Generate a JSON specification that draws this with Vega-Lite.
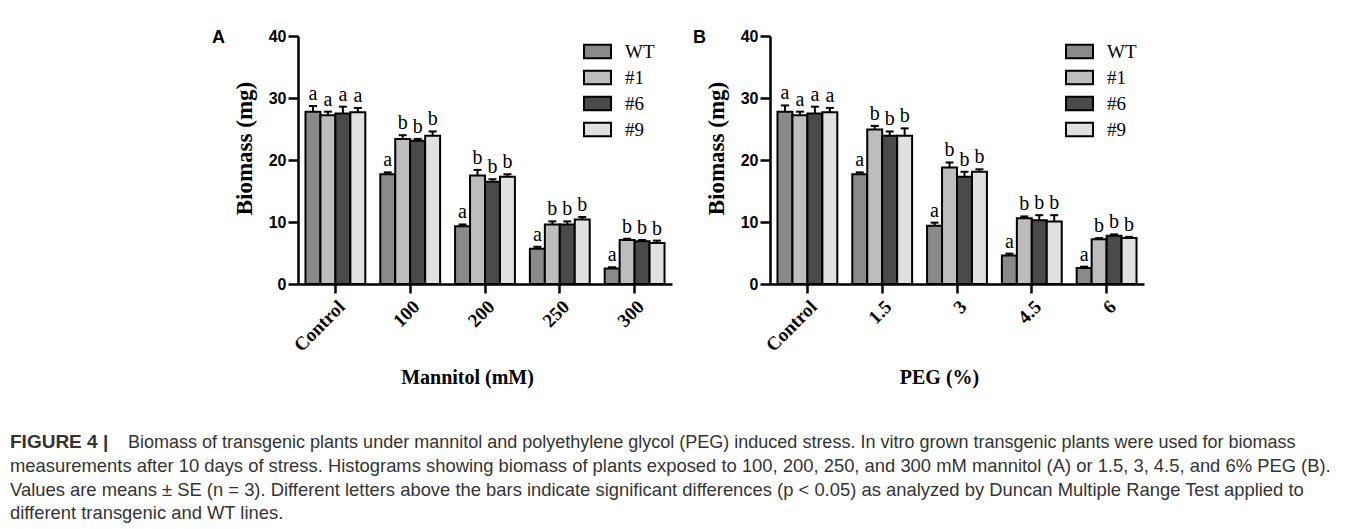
{
  "$schema": "https://vega.github.io/schema/vega-lite/v6.json",
  "background": "white",
  "padding": {"left": 10, "top": 28, "right": 5, "bottom": 5},
  "datasets": {
    "mannitol": [
      {"group": "Control", "line": "WT", "value": 27.8, "upper": 28.7, "sig": "a"},
      {"group": "Control", "line": "#1", "value": 27.2, "upper": 27.8, "sig": "a"},
      {"group": "Control", "line": "#6", "value": 27.5, "upper": 28.6, "sig": "a"},
      {"group": "Control", "line": "#9", "value": 27.7, "upper": 28.4, "sig": "a"},
      {"group": "100", "line": "WT", "value": 17.7, "upper": 18.0, "sig": "a"},
      {"group": "100", "line": "#1", "value": 23.4, "upper": 24.0, "sig": "b"},
      {"group": "100", "line": "#6", "value": 23.1, "upper": 23.4, "sig": "b"},
      {"group": "100", "line": "#9", "value": 23.9, "upper": 24.6, "sig": "b"},
      {"group": "200", "line": "WT", "value": 9.3, "upper": 9.6, "sig": "a"},
      {"group": "200", "line": "#1", "value": 17.5, "upper": 18.4, "sig": "b"},
      {"group": "200", "line": "#6", "value": 16.5, "upper": 16.9, "sig": "b"},
      {"group": "200", "line": "#9", "value": 17.3, "upper": 17.7, "sig": "b"},
      {"group": "250", "line": "WT", "value": 5.7, "upper": 6.0, "sig": "a"},
      {"group": "250", "line": "#1", "value": 9.6, "upper": 10.1, "sig": "b"},
      {"group": "250", "line": "#6", "value": 9.6, "upper": 10.1, "sig": "b"},
      {"group": "250", "line": "#9", "value": 10.4, "upper": 10.8, "sig": "b"},
      {"group": "300", "line": "WT", "value": 2.5, "upper": 2.7, "sig": "a"},
      {"group": "300", "line": "#1", "value": 7.1, "upper": 7.3, "sig": "b"},
      {"group": "300", "line": "#6", "value": 6.9, "upper": 7.1, "sig": "b"},
      {"group": "300", "line": "#9", "value": 6.6, "upper": 7.0, "sig": "b"}
    ],
    "peg": [
      {"group": "Control", "line": "WT", "value": 27.8, "upper": 28.8, "sig": "a"},
      {"group": "Control", "line": "#1", "value": 27.2, "upper": 27.8, "sig": "a"},
      {"group": "Control", "line": "#6", "value": 27.5, "upper": 28.6, "sig": "a"},
      {"group": "Control", "line": "#9", "value": 27.7, "upper": 28.4, "sig": "a"},
      {"group": "1.5", "line": "WT", "value": 17.7, "upper": 18.0, "sig": "a"},
      {"group": "1.5", "line": "#1", "value": 24.9, "upper": 25.5, "sig": "b"},
      {"group": "1.5", "line": "#6", "value": 23.9, "upper": 24.6, "sig": "b"},
      {"group": "1.5", "line": "#9", "value": 23.9, "upper": 25.1, "sig": "b"},
      {"group": "3", "line": "WT", "value": 9.4, "upper": 9.9, "sig": "a"},
      {"group": "3", "line": "#1", "value": 18.8, "upper": 19.6, "sig": "b"},
      {"group": "3", "line": "#6", "value": 17.3, "upper": 18.1, "sig": "b"},
      {"group": "3", "line": "#9", "value": 18.1, "upper": 18.5, "sig": "b"},
      {"group": "4.5", "line": "WT", "value": 4.6, "upper": 4.9, "sig": "a"},
      {"group": "4.5", "line": "#1", "value": 10.6, "upper": 10.9, "sig": "b"},
      {"group": "4.5", "line": "#6", "value": 10.3, "upper": 11.1, "sig": "b"},
      {"group": "4.5", "line": "#9", "value": 10.1, "upper": 11.1, "sig": "b"},
      {"group": "6", "line": "WT", "value": 2.6, "upper": 2.8, "sig": "a"},
      {"group": "6", "line": "#1", "value": 7.2, "upper": 7.4, "sig": "b"},
      {"group": "6", "line": "#6", "value": 7.8, "upper": 8.0, "sig": "b"},
      {"group": "6", "line": "#9", "value": 7.4, "upper": 7.6, "sig": "b"}
    ]
  },
  "title": {
    "text": [
      "measurements after 10 days of stress. Histograms showing biomass of plants exposed to 100, 200, 250, and 300 mM mannitol (A) or 1.5, 3, 4.5, and 6% PEG (B).",
      "Values are means ± SE (n = 3). Different letters above the bars indicate significant differences (p < 0.05) as analyzed by Duncan Multiple Range Test applied to",
      "different transgenic and WT lines."
    ],
    "orient": "bottom", "anchor": "start", "frame": "group", "offset": 5,
    "font": "Liberation Sans", "fontSize": 18.4, "fontWeight": "normal", "color": "#333333", "lineHeight": 23.7
  },
  "vconcat": [
    {
      "title": {
        "text": "Biomass of transgenic plants under mannitol and polyethylene glycol (PEG) induced stress. In vitro grown transgenic plants were used for biomass",
        "orient": "bottom", "anchor": "start", "frame": "group", "offset": -18, "dx": 118,
        "font": "Liberation Sans", "fontSize": 18, "fontWeight": "normal", "color": "#333333", "lineHeight": 24
      },
      "vconcat": [
        {
          "title": {
            "text": "FIGURE 4 |",
            "orient": "bottom", "anchor": "start", "frame": "group", "offset": 46,
            "font": "Liberation Sans", "fontSize": 19, "fontWeight": "bold", "color": "#333333", "lineHeight": 24
          },
          "spacing": 21,
          "resolve": {"scale": {"fill": "independent"}, "legend": {"fill": "independent"}},
          "hconcat": [
            {
              "width": 181,
              "height": 248,
              "data": {"values": [{}]},
              "mark": {"type": "point", "opacity": 0}
            },
            {
              "width": 374,
              "height": 248,
              "title": {"text": "A", "anchor": "start", "frame": "group", "dx": -86, "dy": 37, "font": "Liberation Sans", "fontSize": 18, "fontWeight": "bold", "baseline": "alphabetic", "color": "black"},
              "data": {"name": "mannitol"},
              "encoding": {
                "x": {"field": "group", "type": "nominal", "sort": null, "scale": {"paddingInner": 0.2, "paddingOuter": 0.1}, "axis": {"title": "Mannitol (mM)"}},
                "xOffset": {"field": "line", "type": "nominal", "sort": null, "scale": {"paddingInner": 0, "paddingOuter": 0}}
              },
              "layer": [
                {
                  "mark": {"type": "bar", "stroke": "black", "strokeWidth": 2},
                  "encoding": {
                    "y": {"field": "value", "type": "quantitative", "scale": {"domain": [0, 40]}, "axis": {"title": "Biomass (mg)", "values": [0, 10, 20, 30, 40]}},
                    "fill": {"field": "line", "type": "nominal", "sort": null, "scale": {"domain": ["WT", "#1", "#6", "#9"], "range": ["#8a8a8a", "#bdbdbd", "#4a4a4a", "#e0e0e0"]},
                      "legend": {"orient": "none", "legendX": 285, "legendY": 1}}
                  }
                },
                {"mark": {"type": "rule", "strokeWidth": 2, "color": "black"}, "encoding": {"y": {"field": "value", "type": "quantitative"}, "y2": {"field": "upper"}}},
                {"mark": {"type": "tick", "orient": "horizontal", "size": 8, "thickness": 2, "color": "black", "opacity": 1}, "encoding": {"y": {"field": "upper", "type": "quantitative"}}},
                {"mark": {"type": "text", "font": "Liberation Serif", "fontSize": 20, "baseline": "alphabetic", "dy": -6, "color": "black"}, "encoding": {"y": {"field": "upper", "type": "quantitative"}, "text": {"field": "sig"}}}
              ]
            },
            {
              "width": 374,
              "height": 248,
              "title": {"text": "B", "anchor": "start", "frame": "group", "dx": -77, "dy": 37, "font": "Liberation Sans", "fontSize": 18, "fontWeight": "bold", "baseline": "alphabetic", "color": "black"},
              "data": {"name": "peg"},
              "encoding": {
                "x": {"field": "group", "type": "nominal", "sort": null, "scale": {"paddingInner": 0.2, "paddingOuter": 0.1}, "axis": {"title": "PEG (%)"}},
                "xOffset": {"field": "line", "type": "nominal", "sort": null, "scale": {"paddingInner": 0, "paddingOuter": 0}}
              },
              "layer": [
                {
                  "mark": {"type": "bar", "stroke": "black", "strokeWidth": 2},
                  "encoding": {
                    "y": {"field": "value", "type": "quantitative", "scale": {"domain": [0, 40]}, "axis": {"title": "Biomass (mg)", "values": [0, 10, 20, 30, 40]}},
                    "fill": {"field": "line", "type": "nominal", "sort": null, "scale": {"domain": ["WT", "#1", "#6", "#9"], "range": ["#8a8a8a", "#bdbdbd", "#4a4a4a", "#e0e0e0"]},
                      "legend": {"orient": "none", "legendX": 295, "legendY": 1}}
                  }
                },
                {"mark": {"type": "rule", "strokeWidth": 2, "color": "black"}, "encoding": {"y": {"field": "value", "type": "quantitative"}, "y2": {"field": "upper"}}},
                {"mark": {"type": "tick", "orient": "horizontal", "size": 8, "thickness": 2, "color": "black", "opacity": 1}, "encoding": {"y": {"field": "upper", "type": "quantitative"}}},
                {"mark": {"type": "text", "font": "Liberation Serif", "fontSize": 20, "baseline": "alphabetic", "dy": -6, "color": "black"}, "encoding": {"y": {"field": "upper", "type": "quantitative"}, "text": {"field": "sig"}}}
              ]
            }
          ]
        }
      ]
    }
  ],
  "config": {
    "view": {"stroke": null},
    "axis": {"grid": false, "domainColor": "black", "domainWidth": 2.5, "tickColor": "black", "tickWidth": 2.5, "labelColor": "black", "titleColor": "black"},
    "axisY": {"labelFont": "Liberation Sans", "labelFontWeight": "bold", "labelFontSize": 16, "tickSize": 10, "labelPadding": 2, "titleFont": "Liberation Serif", "titleFontWeight": "bold", "titleFontSize": 23, "titlePadding": 12, "titleY": 112},
    "axisX": {"labelAngle": -45, "labelFont": "Liberation Serif", "labelFontWeight": "bold", "labelFontSize": 19, "tickSize": 9, "labelPadding": 4, "titleFont": "Liberation Serif", "titleFontWeight": "bold", "titleFontSize": 20, "titleX": 169, "titleY": 99, "titleBaseline": "alphabetic"},
    "legend": {"title": null, "padding": 0, "symbolType": "M-1,-0.5H1V0.5H-1Z", "symbolSize": 729, "symbolStrokeColor": "black", "symbolStrokeWidth": 2, "labelFont": "Liberation Serif", "labelFontSize": 19, "labelColor": "black", "labelOffset": 13, "rowPadding": -2}
  }
}
